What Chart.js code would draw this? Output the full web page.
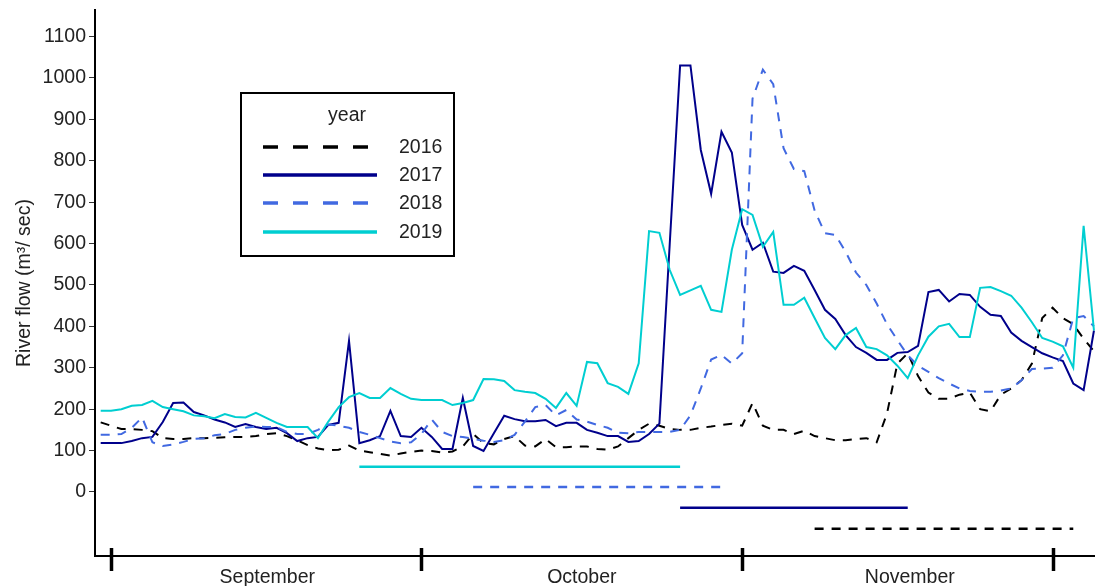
<!DOCTYPE html>
<html><head><meta charset="utf-8">
<script src="https://cdn.jsdelivr.net/npm/chart.js@4/dist/chart.umd.min.js"></script>
<style>html,body{margin:0;padding:0;background:#fff;} canvas{display:block;}</style>
</head><body>
<canvas id="c" width="1095" height="586"></canvas>
<script>
// Day offset from 1 September
const days = [-1,0,1,2,3,4,5,6,7,8,9,10,11,12,13,14,15,16,17,18,19,20,21,22,23,24,25,26,27,28,29,30,31,32,33,34,35,36,37,38,39,40,41,42,43,44,45,46,47,48,49,50,51,52,53,54,55,56,57,58,59,60,61,62,63,64,65,66,67,68,69,70,71,72,73,74,75,76,77,78,79,80,81,82,83,84,85,86,87,88,89,90,91,92,93,94,95];

const flow2016 = [168,160,152,152,150,147,130,128,128,130,130,131,132,133,133,135,140,142,135,125,113,105,101,102,112,100,96,92,88,93,97,100,99,95,98,110,140,118,115,128,135,112,110,128,108,108,110,110,104,102,110,130,150,165,160,152,150,150,155,158,162,165,160,215,160,150,150,140,148,135,130,125,125,128,130,120,190,310,335,280,240,225,225,235,240,200,195,235,250,270,310,420,445,420,405,370,340];

const flow2017 = [118,118,118,123,130,133,169,215,216,193,185,175,168,157,164,157,152,155,142,123,130,133,162,167,365,118,125,135,196,135,133,155,133,104,104,227,111,99,142,184,176,171,171,174,159,167,167,150,143,135,135,121,123,140,165,600,1030,1030,826,720,870,820,645,585,602,532,529,546,534,488,440,418,379,350,336,319,319,336,338,353,483,488,460,478,476,447,428,425,385,365,350,335,325,316,262,246,390];

const flow2018 = [138,138,140,155,180,120,111,115,121,128,130,137,140,150,155,158,157,157,145,140,140,150,163,160,155,145,138,130,122,118,120,140,175,145,135,133,128,124,121,125,138,170,205,210,185,198,175,170,162,155,143,142,145,145,145,145,150,185,250,320,331,310,335,950,1020,985,830,780,775,680,625,621,580,530,500,455,405,367,330,305,290,275,262,250,244,242,242,245,250,270,297,298,300,330,420,425,400];

const flow2019 = [196,196,200,208,210,220,205,200,195,185,183,178,188,181,180,191,179,167,157,157,157,130,170,205,229,239,227,227,251,237,225,222,222,222,210,215,222,273,272,268,246,242,239,225,203,239,208,314,311,263,254,237,311,630,626,536,476,487,498,440,435,585,683,669,592,628,452,452,469,420,372,345,379,396,350,345,330,305,275,330,375,400,406,374,374,493,495,485,474,445,410,372,363,352,300,643,390];

const years = ['2016','2017','2018','2019'];
const periodStart = [68,55,35,24];
const periodEnd = [93,77,59,55];
const periodLevel = [-89,-38,12,61];

const monthBoundaries = [0,30,61,91];
const monthLabels = ['September','October','November'];
const monthLabelPos = [15.1,45.5,77.2];
const yTicks = [0,100,200,300,400,500,600,700,800,900,1000,1100];

const styles = {
  '2016': {color:'#000000', dash:[9,8]},
  '2017': {color:'#00008B', dash:[]},
  '2018': {color:'#4169E1', dash:[9,8]},
  '2019': {color:'#00CED1', dash:[]}
};
const FONT = "'Liberation Sans', Arial, sans-serif";
const FS = 19.5;

const series = [flow2016, flow2017, flow2018, flow2019];
const datasets = [];
years.forEach((yr, i) => {
  datasets.push({
    label: yr, isMain: true,
    data: days.map((d, k) => ({x: d, y: series[i][k]})),
    borderColor: styles[yr].color, borderDash: styles[yr].dash,
    borderWidth: 2, pointRadius: 0, tension: 0, fill: false, order: 3 - i
  });
  datasets.push({
    label: yr + ' period', isMain: false,
    data: [{x: periodStart[i], y: periodLevel[i]}, {x: periodEnd[i], y: periodLevel[i]}],
    borderColor: styles[yr].color, borderDash: styles[yr].dash,
    borderWidth: 2.5, pointRadius: 0, tension: 0, fill: false, order: 3 - i
  });
});

const legendPlugin = {
  id: 'boxLegend',
  afterDraw(chart) {
    const ctx = chart.ctx;
    ctx.save();
    ctx.fillStyle = '#fff';
    ctx.fillRect(241, 93, 213, 163);
    ctx.strokeStyle = '#000';
    ctx.lineWidth = 2;
    ctx.setLineDash([]);
    ctx.strokeRect(241, 93, 213, 163);
    ctx.font = FS + 'px ' + FONT;
    ctx.fillStyle = '#222';
    ctx.textBaseline = 'middle';
    ctx.textAlign = 'center';
    ctx.fillText('year', 347, 116);
    const rows = [147, 175, 203, 232];
    chart.data.datasets.filter(d => d.isMain).forEach((ds, i) => {
      ctx.beginPath();
      ctx.strokeStyle = ds.borderColor;
      ctx.lineWidth = 3.5;
      ctx.setLineDash(ds.borderDash.length ? [15, 15] : []);
      ctx.moveTo(263, rows[i]);
      ctx.lineTo(377, rows[i]);
      ctx.stroke();
      ctx.setLineDash([]);
      ctx.textAlign = 'left';
      ctx.fillStyle = '#222';
      ctx.fillText(ds.label, 399, rows[i] + 1);
    });
    ctx.restore();
  }
};

const monthTickPlugin = {
  id: 'monthTicks',
  afterDraw(chart) {
    const xs = chart.scales.x;
    const ctx = chart.ctx;
    ctx.save();
    ctx.strokeStyle = '#000';
    ctx.lineWidth = 3.5;
    monthBoundaries.forEach(v => {
      const px = Math.round(xs.getPixelForValue(v)) + 0.5;
      ctx.beginPath();
      ctx.moveTo(px, xs.top - 8);
      ctx.lineTo(px, xs.top + 15);
      ctx.stroke();
    });
    ctx.restore();
  }
};

new Chart(document.getElementById('c'), {
  type: 'line',
  data: {datasets},
  options: {
    responsive: false,
    animation: false,
    layout: {padding: {top: 10, right: 0, left: 0, bottom: 0}},
    plugins: {legend: {display: false}, tooltip: {enabled: false}},
    scales: {
      x: {
        type: 'linear', min: -1.55, max: 95.1,
        afterBuildTicks: s => { s.ticks = monthLabelPos.map(v => ({value: v})); },
        afterFit: s => { s.height = 30; s.paddingLeft = 0; s.paddingRight = 0; },
        ticks: {
          autoSkip: false, maxRotation: 0, padding: 10,
          color: '#222', font: {size: FS, family: FONT},
          callback: (v, i) => monthLabels[i]
        },
        grid: {display: true, drawOnChartArea: false, drawTicks: false, color: 'rgba(0,0,0,0)'},
        border: {display: true, color: '#000', width: 2}
      },
      y: {
        type: 'linear', min: -154.6, max: 1164,
        afterBuildTicks: s => { s.ticks = yTicks.map(v => ({value: v})); },
        afterFit: s => { s.width = 95; s.paddingTop = 0; s.paddingBottom = 0; },
        ticks: {padding: 3, color: '#222', font: {size: FS, family: FONT},
                callback: v => String(v)},
        grid: {display: true, drawOnChartArea: false, drawTicks: true, tickLength: 6, color: '#333', lineWidth: 1},
        border: {display: true, color: '#000', width: 2},
        title: {display: true, text: 'River flow (m\u00B3/ sec)', color: '#222',
                font: {size: FS, family: FONT}, padding: {top: 13, bottom: 0}}
      }
    }
  },
  plugins: [legendPlugin, monthTickPlugin]
});
</script>
</body></html>
